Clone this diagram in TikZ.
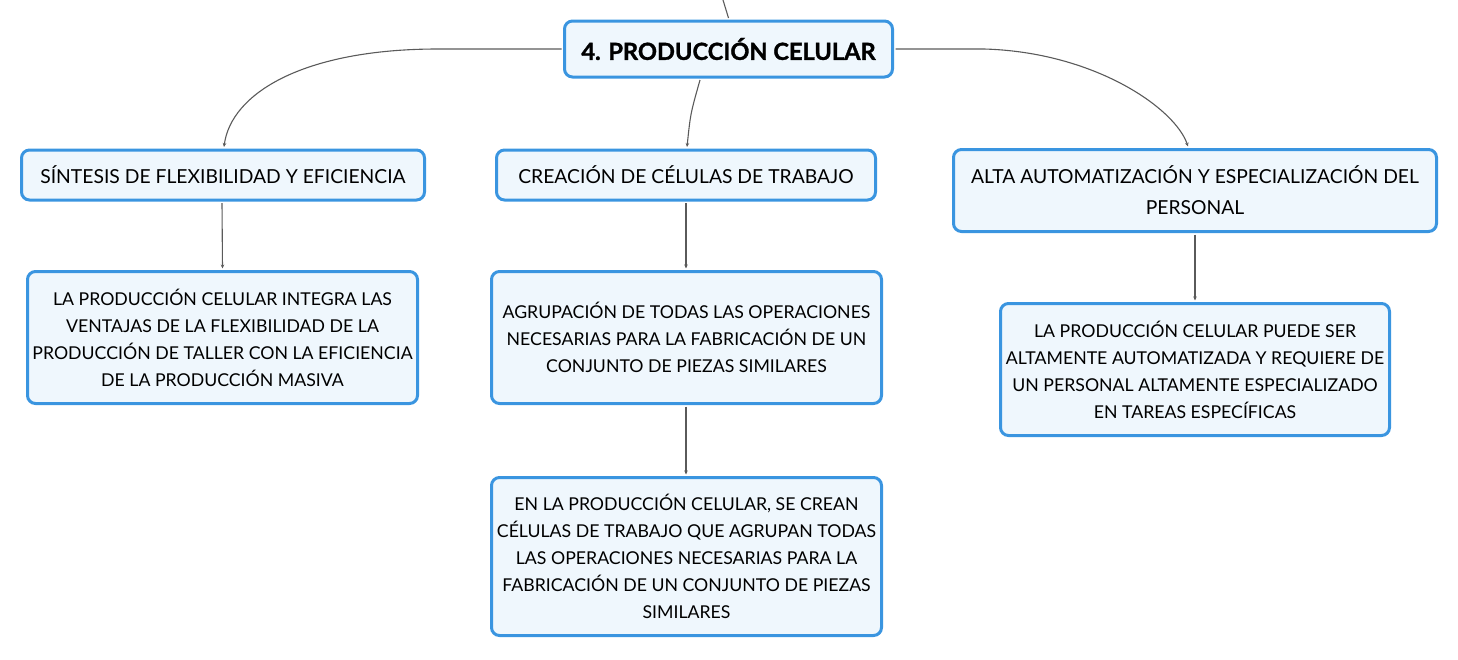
\documentclass[tikz,border=0pt]{standalone}
\usepackage{fontspec}
\setmainfont{Lato}
\newfontfamily\titlefont[FakeBold=1.3]{Lato}
\usetikzlibrary{arrows.meta}
\definecolor{boxblue}{HTML}{3A95E0}
\definecolor{boxfill}{HTML}{EFF7FD}
\definecolor{linkgray}{HTML}{5A5A5A}
\tikzset{
  topic/.style={draw=boxblue, line width=3pt, fill=boxfill, rounded corners=8pt,
    inner sep=0pt, align=center, font=\fontsize{19.3}{31}\selectfont},
  detail/.style={draw=boxblue, line width=3pt, fill=boxfill, rounded corners=8pt,
    inner sep=0pt, align=center, font=\fontsize{17.7}{27}\selectfont},
  maintopic/.style={draw=boxblue, line width=3pt, fill=boxfill, rounded corners=8pt,
    inner sep=0pt, align=center, font=\titlefont\fontsize{23.6}{26}\selectfont\bfseries},
  link/.style={draw=linkgray, line width=1.1pt},
  arrowlink/.style={link, -{Stealth[length=4pt,width=3.5pt]}}
}
\begin{document}
\begin{tikzpicture}[x=1pt,y=-1pt]
\useasboundingbox (0,0) rectangle (1458,659);
\node[maintopic, minimum width=328pt, minimum height=56pt] (T) at (728.5,49) {4. PRODUCCIÓN CELULAR};
\node[topic, minimum width=403pt, minimum height=50pt] (A) at (223,175) {SÍNTESIS DE FLEXIBILIDAD Y EFICIENCIA};
\node[topic, minimum width=379pt, minimum height=50pt] (B) at (686,175) {CREACIÓN DE CÉLULAS DE TRABAJO};
\node[topic, minimum width=483pt, minimum height=82pt] (C) at (1195,190.5) {ALTA AUTOMATIZACIÓN Y ESPECIALIZACIÓN DEL\\PERSONAL};
\node[detail, minimum width=390pt, minimum height=132pt] (A2) at (222.5,337.5) {LA PRODUCCIÓN CELULAR INTEGRA LAS\\VENTAJAS DE LA FLEXIBILIDAD DE LA\\PRODUCCIÓN DE TALLER CON LA EFICIENCIA\\DE LA PRODUCCIÓN MASIVA};
\node[detail, minimum width=390pt, minimum height=132pt] (B2) at (686.5,337.5) {AGRUPACIÓN DE TODAS LAS OPERACIONES\\NECESARIAS PARA LA FABRICACIÓN DE UN\\CONJUNTO DE PIEZAS SIMILARES};
\node[detail, minimum width=389pt, minimum height=132pt] (C2) at (1195,369.5) {LA PRODUCCIÓN CELULAR PUEDE SER\\ALTAMENTE AUTOMATIZADA Y REQUIERE DE\\UN PERSONAL ALTAMENTE ESPECIALIZADO\\EN TAREAS ESPECÍFICAS};
\node[detail, minimum width=390pt, minimum height=158pt] (B3) at (686.5,556.5) {EN LA PRODUCCIÓN CELULAR, SE CREAN\\CÉLULAS DE TRABAJO QUE AGRUPAN TODAS\\LAS OPERACIONES NECESARIAS PARA LA\\FABRICACIÓN DE UN CONJUNTO DE PIEZAS\\SIMILARES};
\coordinate (parent) at (723,0);
\draw[link] (parent) .. controls (726,9) .. ([yshift=1.5pt]T.north);
\draw[arrowlink] ([xshift=-1.5pt]T.west) -- ([xshift=-125pt]T.west) .. controls ([xshift=-260pt]T.west) and ([xshift=8pt,yshift=55pt]A.north) .. ([xshift=1pt,yshift=1.5pt]A.north);
\draw[arrowlink] ([xshift=1.5pt]T.east) -- ([xshift=90pt]T.east) .. controls ([xshift=200pt,yshift=-3pt]T.east) and ([xshift=-20pt,yshift=40pt]C.north) .. ([xshift=-7pt,yshift=1.5pt]C.north);
\draw[arrowlink] ([xshift=-28.5pt,yshift=-1.5pt]T.south) .. controls ([xshift=-38pt,yshift=-35pt]T.south) .. ([xshift=1pt,yshift=1.5pt]B.north);
\draw[arrowlink] ([xshift=-1pt,yshift=-1.5pt]A.south) -- ([yshift=1.5pt]A2.north);
\draw[arrowlink] ([yshift=-1.5pt]B.south) -- ([xshift=-0.5pt,yshift=1.5pt]B2.north);
\draw[arrowlink] ([yshift=-1.5pt]C.south) -- ([yshift=1.5pt]C2.north);
\draw[arrowlink] ([xshift=-0.5pt,yshift=-1.5pt]B2.south) -- ([xshift=-0.5pt,yshift=1.5pt]B3.north);
\end{tikzpicture}
\end{document}
